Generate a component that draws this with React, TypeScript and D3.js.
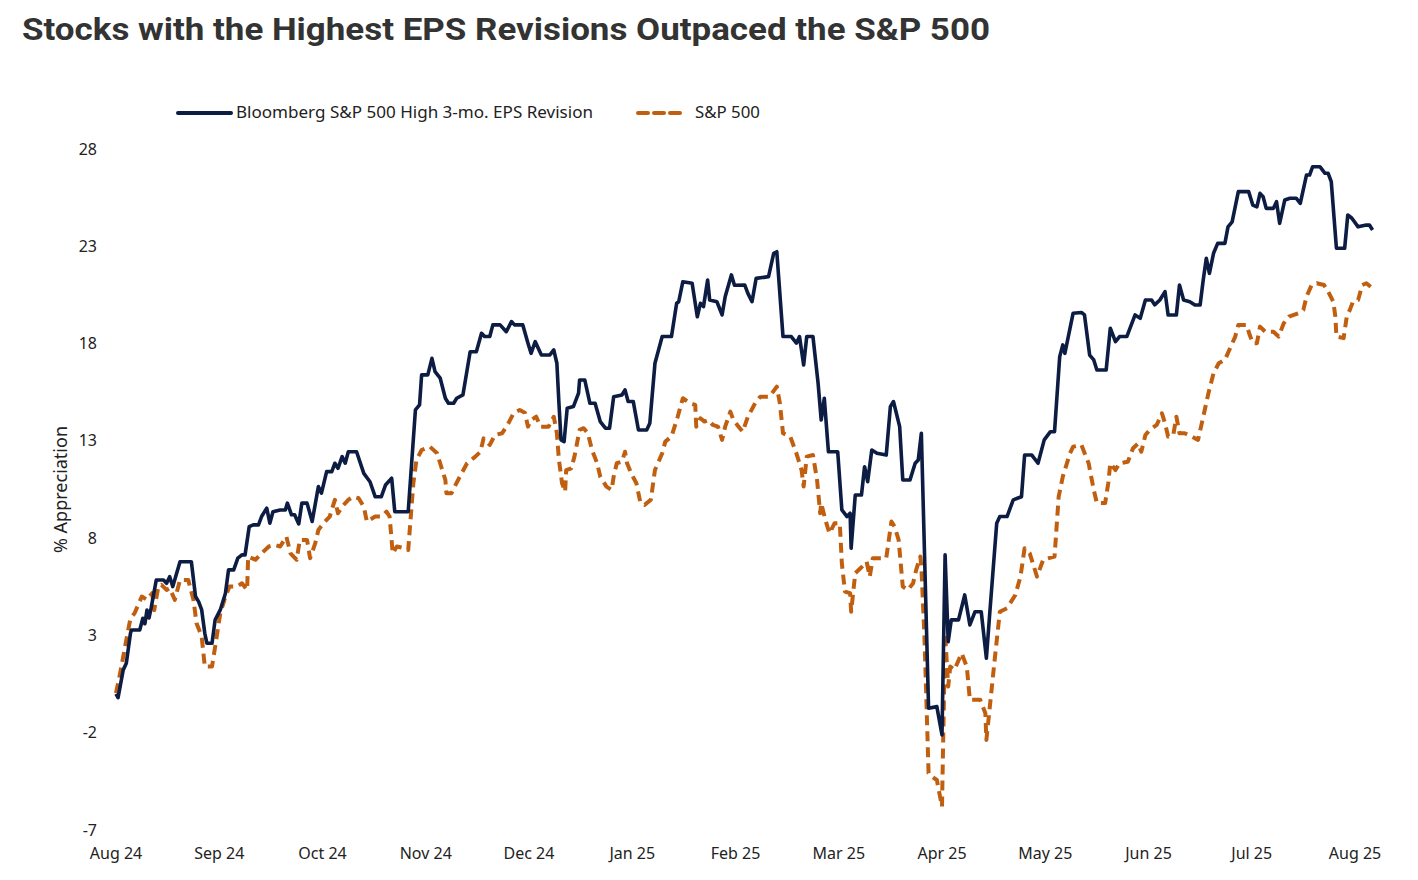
import { scaleLinear, line } from 'd3'

const title = 'Stocks with the Highest EPS Revisions Outpaced the S&P 500'
const seriesNames = ['Bloomberg S&P 500 High 3-mo. EPS Revision', 'S&P 500']
const monthLabels = [
  'Aug 24', 'Sep 24', 'Oct 24', 'Nov 24', 'Dec 24', 'Jan 25', 'Feb 25',
  'Mar 25', 'Apr 25', 'May 25', 'Jun 25', 'Jul 25', 'Aug 25',
]
const yTicks = [28, 23, 18, 13, 8, 3, -2, -7]

// [months since Aug 24, % appreciation]
const highRevision: [number, number][] = [
  [0, 0], [0.02, -0.2], [0.07, 1.23], [0.1, 1.57], [0.14, 3.11], [0.15, 3.28], [0.23, 3.28],
  [0.26, 3.88], [0.28, 3.6], [0.3, 4.3], [0.32, 3.9], [0.34, 4.4], [0.39, 5.85], [0.46, 5.85],
  [0.49, 5.68], [0.52, 6.02], [0.55, 5.51], [0.62, 6.79], [0.73, 6.79], [0.77, 5.0], [0.8, 4.74],
  [0.83, 4.31], [0.86, 3.11], [0.88, 2.6], [0.93, 2.6], [0.96, 3.8], [1.01, 4.31], [1.06, 5.17],
  [1.09, 6.37], [1.14, 6.37], [1.18, 6.97], [1.22, 7.14], [1.25, 7.14], [1.29, 8.59], [1.33, 8.68],
  [1.38, 8.68], [1.41, 9.11], [1.46, 9.54], [1.49, 8.77], [1.52, 9.36], [1.59, 9.45], [1.64, 9.45],
  [1.66, 9.8], [1.7, 9.2], [1.73, 9.2], [1.77, 8.73], [1.8, 9.8], [1.85, 9.8], [1.9, 8.86],
  [1.96, 10.65], [1.99, 10.31], [2.04, 11.42], [2.09, 11.42], [2.12, 11.85], [2.15, 11.59],
  [2.19, 12.19], [2.22, 11.85], [2.25, 12.44], [2.33, 12.44], [2.4, 11.33], [2.46, 10.9],
  [2.51, 10.13], [2.57, 10.13], [2.61, 10.73], [2.67, 11.08], [2.7, 9.36], [2.83, 9.36],
  [2.9, 14.59], [2.94, 14.85], [2.96, 16.39], [3.02, 16.39], [3.06, 17.24], [3.09, 16.56],
  [3.14, 16.22], [3.19, 15.19], [3.22, 14.93], [3.27, 14.93], [3.3, 15.19], [3.36, 15.36],
  [3.43, 17.58], [3.49, 17.58], [3.54, 18.53], [3.57, 18.36], [3.62, 18.36], [3.65, 18.96],
  [3.72, 18.96], [3.78, 18.61], [3.83, 19.13], [3.86, 18.96], [3.94, 18.96], [3.99, 18.02],
  [4.02, 17.5], [4.06, 18.1], [4.12, 17.41], [4.2, 17.41], [4.24, 17.67], [4.27, 16.99],
  [4.29, 14.93], [4.31, 13.05], [4.34, 12.96], [4.37, 14.68], [4.43, 14.76], [4.48, 15.45],
  [4.49, 16.13], [4.54, 16.13], [4.59, 14.93], [4.64, 14.93], [4.69, 13.99], [4.74, 13.65],
  [4.78, 13.65], [4.82, 15.27], [4.9, 15.36], [4.93, 15.62], [4.96, 15.02], [5.01, 15.02],
  [5.06, 13.56], [5.14, 13.56], [5.17, 13.9], [5.22, 16.99], [5.29, 18.36], [5.38, 18.36],
  [5.43, 20.07], [5.45, 20.15], [5.49, 21.18], [5.58, 21.1], [5.63, 19.38], [5.66, 20.07],
  [5.69, 19.9], [5.73, 21.27], [5.75, 20.24], [5.82, 20.15], [5.87, 19.47], [5.9, 20.41],
  [5.96, 21.53], [5.99, 21.0], [6.09, 21.01], [6.12, 20.58], [6.16, 20.15], [6.2, 21.35],
  [6.32, 21.44], [6.37, 22.64], [6.4, 22.72], [6.46, 18.36], [6.54, 18.36], [6.59, 18.02],
  [6.62, 18.36], [6.66, 16.9], [6.69, 18.36], [6.75, 18.36], [6.8, 15.96], [6.83, 14.07],
  [6.86, 15.19], [6.9, 12.44], [6.99, 12.44], [7.03, 9.45], [7.08, 9.11], [7.11, 9.28],
  [7.12, 7.48], [7.16, 10.22], [7.22, 10.22], [7.25, 11.67], [7.28, 10.9], [7.32, 12.53],
  [7.37, 12.36], [7.46, 12.27], [7.5, 14.76], [7.53, 15.02], [7.59, 13.73], [7.62, 10.99],
  [7.69, 10.99], [7.74, 11.85], [7.77, 12.02], [7.8, 13.39], [7.87, -0.74], [7.95, -0.66],
  [8.0, -2.11], [8.03, 7.14], [8.06, 2.68], [8.09, 3.8], [8.16, 3.8], [8.22, 5.08], [8.27, 3.54],
  [8.32, 4.22], [8.38, 4.22], [8.43, 1.83], [8.46, 3.97], [8.53, 8.77], [8.56, 9.11], [8.63, 9.11],
  [8.69, 9.97], [8.77, 10.13], [8.8, 12.27], [8.87, 12.27], [8.93, 11.85], [8.99, 13.05],
  [9.05, 13.47], [9.09, 13.47], [9.14, 17.33], [9.17, 17.93], [9.19, 17.5], [9.27, 19.56],
  [9.35, 19.6], [9.38, 19.47], [9.43, 17.41], [9.47, 17.16], [9.5, 16.64], [9.59, 16.64],
  [9.63, 18.79], [9.68, 18.1], [9.72, 18.36], [9.79, 18.36], [9.87, 19.47], [9.92, 19.3],
  [9.97, 20.24], [10.03, 20.24], [10.06, 19.99], [10.11, 20.24], [10.16, 20.67], [10.19, 19.47],
  [10.27, 19.47], [10.3, 21.01], [10.34, 20.24], [10.4, 20.15], [10.45, 19.98], [10.5, 19.98],
  [10.53, 21.27], [10.56, 22.38], [10.59, 21.61], [10.63, 22.64], [10.67, 23.15], [10.74, 23.15],
  [10.77, 24.0], [10.81, 24.26], [10.87, 25.81], [10.97, 25.81], [11.01, 25.12], [11.05, 25.03],
  [11.08, 25.72], [11.11, 25.55], [11.14, 24.95], [11.21, 24.95], [11.24, 25.29], [11.27, 24.18],
  [11.32, 25.38], [11.37, 25.47], [11.43, 25.47], [11.47, 25.21], [11.53, 26.66], [11.56, 26.66],
  [11.59, 27.09], [11.66, 27.09], [11.71, 26.75], [11.74, 26.75], [11.77, 26.32], [11.82, 22.9],
  [11.9, 22.9], [11.93, 24.61], [11.97, 24.44], [12.03, 24.0], [12.11, 24.09], [12.14, 24.09],
  [12.17, 23.84],
]

const sp500: [number, number][] = [
  [0, 0.03], [0.04, 1.06], [0.07, 1.91], [0.1, 2.77], [0.14, 3.88], [0.18, 4.14], [0.25, 5.0],
  [0.3, 4.83], [0.35, 5.17], [0.37, 4.3], [0.41, 5.51], [0.44, 5.6], [0.49, 5.34], [0.52, 5.43],
  [0.57, 4.83], [0.62, 5.85], [0.7, 5.85], [0.75, 4.83], [0.78, 3.63], [0.83, 2.94], [0.86, 1.4],
  [0.93, 1.4], [0.96, 2.42], [1.01, 4.14], [1.06, 5.0], [1.1, 5.51], [1.17, 5.51], [1.22, 5.68],
  [1.27, 5.34], [1.28, 7.05], [1.35, 6.89], [1.41, 7.22], [1.48, 7.57], [1.54, 7.65], [1.59, 7.57],
  [1.65, 8.08], [1.69, 7.22], [1.72, 7.05], [1.75, 6.89], [1.78, 7.91], [1.85, 7.91], [1.88, 6.97],
  [1.93, 7.74], [1.96, 8.42], [2.01, 8.77], [2.07, 9.11], [2.12, 9.97], [2.15, 9.28], [2.19, 9.62],
  [2.25, 9.97], [2.3, 10.13], [2.35, 10.05], [2.4, 9.62], [2.43, 8.85], [2.51, 9.11], [2.57, 9.11],
  [2.62, 9.36], [2.65, 9.11], [2.68, 7.22], [2.72, 7.57], [2.8, 7.48], [2.83, 7.39], [2.88, 10.82],
  [2.91, 12.02], [2.96, 12.53], [3.04, 12.7], [3.11, 12.36], [3.15, 11.67], [3.19, 10.99],
  [3.2, 10.31], [3.25, 10.31], [3.28, 10.65], [3.33, 11.16], [3.4, 11.85], [3.48, 12.19],
  [3.53, 12.44], [3.56, 13.13], [3.59, 12.96], [3.62, 12.79], [3.67, 13.3], [3.74, 13.39],
  [3.8, 13.9], [3.85, 14.42], [3.91, 14.59], [3.96, 14.45], [3.99, 13.73], [4.02, 14.07],
  [4.07, 14.24], [4.11, 13.73], [4.19, 13.73], [4.24, 14.24], [4.27, 13.39], [4.29, 12.02],
  [4.32, 10.82], [4.35, 10.39], [4.36, 11.5], [4.41, 11.59], [4.44, 12.19], [4.49, 13.56],
  [4.53, 13.65], [4.57, 13.39], [4.61, 12.53], [4.66, 11.85], [4.69, 11.16], [4.75, 10.65],
  [4.8, 10.48], [4.82, 11.16], [4.85, 11.85], [4.9, 11.93], [4.93, 12.44], [4.95, 11.85],
  [4.99, 11.33], [5.04, 10.82], [5.08, 9.8], [5.12, 9.71], [5.18, 9.97], [5.22, 11.5],
  [5.29, 12.36], [5.32, 12.96], [5.38, 13.22], [5.44, 14.24], [5.49, 15.19], [5.56, 14.93],
  [5.61, 14.85], [5.62, 13.73], [5.66, 14.16], [5.7, 13.99], [5.74, 14.07], [5.78, 13.82],
  [5.83, 13.73], [5.87, 13.05], [5.9, 13.73], [5.95, 14.5], [5.98, 14.07], [6.03, 13.73],
  [6.07, 13.47], [6.12, 14.24], [6.19, 14.93], [6.24, 15.27], [6.33, 15.27], [6.4, 15.79],
  [6.43, 14.93], [6.46, 13.39], [6.53, 13.22], [6.59, 12.36], [6.64, 11.5], [6.66, 10.65],
  [6.69, 12.19], [6.75, 12.27], [6.79, 10.99], [6.82, 9.28], [6.83, 9.8], [6.87, 8.94],
  [6.91, 8.25], [6.96, 8.77], [7.01, 8.77], [7.03, 6.71], [7.06, 5.25], [7.11, 5.17], [7.12, 4.22],
  [7.16, 6.2], [7.21, 6.45], [7.27, 6.79], [7.3, 6.02], [7.33, 6.97], [7.46, 6.97], [7.51, 8.85],
  [7.54, 8.6], [7.58, 7.91], [7.62, 5.51], [7.67, 5.34], [7.72, 5.68], [7.75, 6.37], [7.79, 7.05],
  [7.8, 6.54], [7.83, 2.94], [7.87, -4.08], [7.9, -4.25], [7.95, -4.43], [8.0, -5.8], [8.03, 3.11],
  [8.06, 0.37], [8.08, 1.4], [8.12, 1.23], [8.19, 2.08], [8.24, 1.4], [8.27, -0.31], [8.37, -0.31],
  [8.42, -1.0], [8.43, -2.37], [8.46, -0.83], [8.51, 1.74], [8.56, 4.22], [8.63, 4.4], [8.71, 5.08],
  [8.76, 6.02], [8.8, 7.48], [8.85, 7.22], [8.92, 6.02], [8.98, 6.89], [9.09, 7.05], [9.13, 10.13],
  [9.17, 11.16], [9.24, 12.36], [9.27, 12.7], [9.35, 12.79], [9.42, 11.85], [9.47, 10.48],
  [9.5, 9.8], [9.58, 9.8], [9.61, 10.82], [9.63, 11.85], [9.68, 11.5], [9.72, 11.85], [9.8, 11.93],
  [9.85, 12.62], [9.9, 12.87], [9.93, 12.44], [9.97, 13.3], [10.01, 13.56], [10.08, 13.82],
  [10.13, 14.42], [10.16, 13.9], [10.19, 13.22], [10.24, 13.3], [10.27, 14.24], [10.3, 13.39],
  [10.35, 13.39], [10.42, 13.22], [10.48, 13.05], [10.53, 14.24], [10.58, 15.44], [10.63, 16.47],
  [10.68, 16.99], [10.74, 17.16], [10.79, 17.76], [10.84, 18.36], [10.87, 18.96], [10.95, 18.96],
  [10.98, 18.45], [11.01, 18.02], [11.05, 18.02], [11.08, 18.87], [11.13, 18.61], [11.21, 18.61],
  [11.26, 18.36], [11.31, 19.04], [11.36, 19.38], [11.45, 19.56], [11.5, 19.73], [11.53, 20.41],
  [11.58, 21.01], [11.63, 21.1], [11.7, 21.01], [11.74, 20.67], [11.79, 20.15], [11.81, 19.38],
  [11.82, 18.36], [11.89, 18.28], [11.92, 19.38], [11.95, 19.73], [11.98, 20.15], [12.03, 20.24],
  [12.07, 21.01], [12.11, 21.1], [12.17, 20.84],
]

const navy = '#0c1c42'
const orange = '#c15f10'
const font = "'Noto Sans', Roboto, sans-serif"

export default function App() {
  const x = scaleLinear().domain([0, 12]).range([116, 1355])
  const y = scaleLinear().domain([-7, 28]).range([830, 149])

  const path = line<[number, number]>()
    .x(d => x(d[0]))
    .y(d => y(d[1]))

  return (
    <svg
      width={1418}
      height={880}
      style={{ position: 'absolute', left: 0, top: 0, background: '#fff' }}
    >
      <text
        x={22}
        y={40}
        fontFamily="Roboto, 'Noto Sans', sans-serif"
        fontWeight={700}
        fontSize={31}
        fill="#333333"
        textLength={968}
        lengthAdjust="spacingAndGlyphs"
      >
        {title}
      </text>

      {/* legend */}
      <g fontFamily={font} fontSize={16} fill="#222">
        <line x1={178} x2={231} y1={113} y2={113} stroke={navy} strokeWidth={4} strokeLinecap="round" />
        <text x={236} y={118} textLength={357} lengthAdjust="spacingAndGlyphs">
          {seriesNames[0]}
        </text>
        <line
          x1={638}
          x2={686}
          y1={113}
          y2={113}
          stroke={orange}
          strokeWidth={4}
          strokeDasharray="10 6"
          strokeLinecap="round"
        />
        <text x={695} y={118} textLength={65} lengthAdjust="spacingAndGlyphs">
          {seriesNames[1]}
        </text>
      </g>

      {/* y axis */}
      <g fontFamily={font} fontSize={16} fill="#222" textAnchor="end">
        {yTicks.map(t => (
          <text key={t} x={97} y={y(t)} dy="0.35em">
            {t}
          </text>
        ))}
      </g>
      <text
        transform={`translate(67, ${y(10.5)}) rotate(-90)`}
        textAnchor="middle"
        fontFamily={font}
        fontSize={18}
        fill="#222"
      >
        % Appreciation
      </text>

      {/* x axis */}
      <g fontFamily={font} fontSize={16} fill="#222" textAnchor="middle">
        {monthLabels.map((m, i) => (
          <text key={m} x={x(i)} y={859}>
            {m}
          </text>
        ))}
      </g>

      <path
        d={path(sp500) ?? ''}
        fill="none"
        stroke={orange}
        strokeWidth={4}
        strokeDasharray="10 6"
        strokeLinejoin="round"
      />
      <path
        d={path(highRevision) ?? ''}
        fill="none"
        stroke={navy}
        strokeWidth={3.6}
        strokeLinejoin="round"
      />
    </svg>
  )
}
